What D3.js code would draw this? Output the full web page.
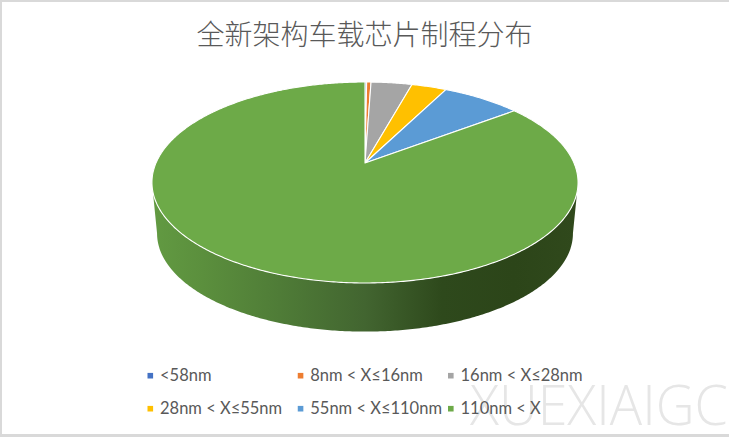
<!DOCTYPE html>
<html><head><meta charset="utf-8">
<script src="https://cdn.jsdelivr.net/npm/d3@7/dist/d3.min.js"></script>
<style>html,body{margin:0;padding:0;background:#fff}svg{display:block}</style>
</head><body><svg id="c" width="729" height="437"></svg>
<script>
const titleText = "全新架构车载芯片制程分布";
const categories = ["<58nm","8nm < X≤16nm","16nm < X≤28nm","28nm < X≤55nm","55nm < X≤110nm","110nm < X"];
const values = [0.15,0.4,3.75,3.2,7.2,85.3];
const colors = ["#4472c4","#ed7d31","#a5a5a5","#ffc000","#5b9bd5","#6daa48"];

const svg = d3.select("#c");
svg.append("rect").attr("width",729).attr("height",437).attr("fill","#d9d9d9");
svg.append("rect").attr("x",2).attr("y",2).attr("width",727).attr("height",432).attr("fill","#fff");

// Perspective disc: a unit circle projected so its centre lands off the ellipse centre
const K = -0.194, A = 209, B = 96.7, CX = 365, CY = 163;
function rim(a, scale, dy){
  const u = Math.sin(a), v = -Math.cos(a), w = 1 + K*v;
  return [CX + scale*A*u/w, CY + dy + scale*B*v/w];
}
const TAU = Math.PI*2;
const pie = d3.pie().sort(null).startAngle(0).endAngle(TAU);
const arcs = pie(values);
const line = d3.line();
function samples(a0,a1){ const n = Math.max(2,Math.ceil((a1-a0)/0.01)); return d3.range(n+1).map(i=>a0+(a1-a0)*i/n); }

const defs = svg.append("defs");
const grad = defs.append("linearGradient").attr("id","side").attr("gradientUnits","userSpaceOnUse")
  .attr("x1",152).attr("x2",578).attr("y1",0).attr("y2",0);
[[0,"#629a42"],[0.12,"#5b8f3d"],[0.3,"#4f7c37"],[0.5,"#426530"],[0.68,"#2e491c"],[0.85,"#2c4519"],[1,"#30491c"]]
  .forEach(s=>grad.append("stop").attr("offset",s[0]).attr("stop-color",s[1]));

// Side wall of the disc, only where the rim faces the viewer
const frontA = Math.acos(K), frontB = TAU - frontA;
const DS = 0.976, DY = 51.5;
arcs.forEach(d=>{
  const a0 = Math.max(d.startAngle,frontA), a1 = Math.min(d.endAngle,frontB);
  if(a1<=a0) return;
  const s = samples(a0,a1);
  const pts = s.map(a=>rim(a,1,0)).concat(s.slice().reverse().map(a=>rim(a,DS,DY)));
  svg.append("path").attr("d",line(pts)+"Z").attr("fill","url(#side)");
});

// Top face
svg.append("g").selectAll("path").data(arcs).join("path")
  .attr("d",d=>line([[CX,CY]].concat(samples(d.startAngle,d.endAngle).map(a=>rim(a,1,0))))+"Z")
  .attr("fill",(d,i)=>colors[i]).attr("stroke","#fff").attr("stroke-width",1.1).attr("stroke-linejoin","round");

// Title
svg.append("text").attr("x",364.5).attr("y",45).attr("text-anchor","middle")
  .attr("font-family","'Noto Sans CJK SC'").attr("font-weight",300).attr("font-size",28).attr("fill","#595959").text(titleText);

// Watermark
svg.append("text").attr("x",470).attr("y",425).attr("font-family","'Open Sans'").attr("font-weight",300)
  .attr("font-size",56).attr("fill","#e6e6e6").attr("textLength",258).attr("lengthAdjust","spacingAndGlyphs").text("XUEXIAIGC");

// Legend
const colX = d3.scalePoint().domain([0,1,2]).range([147.5,448]);
const rowY = d3.scalePoint().domain([0,1]).range([375.7,408.7]);
const lg = svg.append("g").selectAll("g").data(categories).join("g")
  .attr("transform",(d,i)=>`translate(${colX(i%3)},${rowY(Math.floor(i/3))})`);
lg.append("rect").attr("y",-2.8).attr("width",5.6).attr("height",5.6).attr("fill",(d,i)=>colors[i]);
lg.append("text").attr("x",12.5).attr("y",5.3).attr("font-family","Lato").attr("font-size",16.5).attr("fill","#595959").text(d=>d);
</script></body></html>
